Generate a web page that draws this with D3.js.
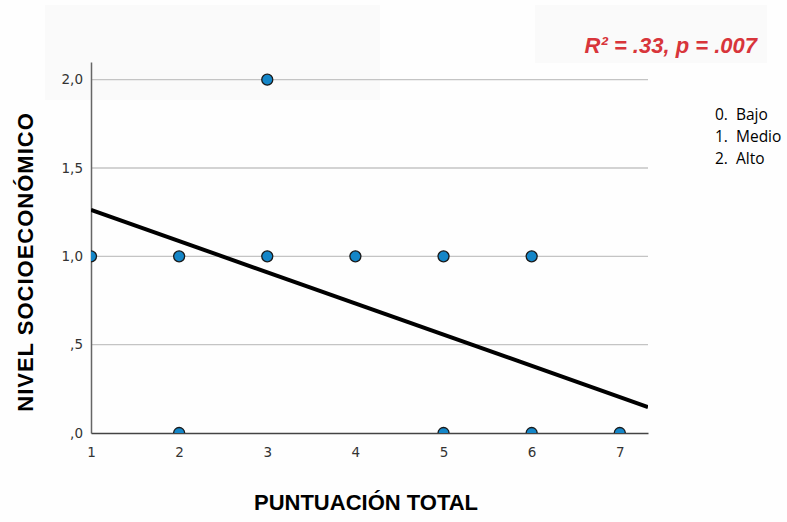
<!DOCTYPE html>
<html>
<head>
<meta charset="utf-8">
<script src="https://cdn.jsdelivr.net/npm/d3@7"></script>
<style>
  body { margin: 0; background: #fefefe; }
  svg { display: block; }
</style>
</head>
<body>
<div id="chart"></div>
<script>
// Puntuación total vs nivel socioeconómico (scatter + linear fit)
const puntuacion = [1, 2, 2, 3, 3, 4, 5, 5, 6, 6, 7];
const nivel      = [1, 1, 0, 2, 1, 1, 1, 0, 1, 0, 0];
const yTicks = [0, 0.5, 1, 1.5, 2];
const xTicks = [1, 2, 3, 4, 5, 6, 7];
const fitLine = [[1, 1.263], [7.32, 0.147]];
const legendItems = ["0.  Bajo", "1.  Medio", "2.  Alto"];

const width = 787, height = 522;
const margin = { top: 62, right: 139, bottom: 89, left: 91 };
const innerWidth = width - margin.left - margin.right;
const innerHeight = height - margin.top - margin.bottom;

const svg = d3.select("#chart")
    .append("svg")
    .attr("width", width)
    .attr("height", height);

// faint panels behind, as in the original screenshot
svg.append("rect").attr("x", 45).attr("y", 5).attr("width", 335).attr("height", 95).attr("fill", "#fafafa");
svg.append("rect").attr("x", 535).attr("y", 5).attr("width", 232).attr("height", 58).attr("fill", "#fafafa");

const g = svg.append("g")
    .attr("transform", `translate(${margin.left},${margin.top})`);

const x = d3.scaleLinear().domain([1, 7.32]).range([0, innerWidth]);
const y = d3.scaleLinear().domain([0, 2.1]).range([innerHeight, 0]);

g.append("defs").append("clipPath").attr("id", "clip")
    .append("rect").attr("width", innerWidth).attr("height", innerHeight);

// gridlines
g.append("g")
    .selectAll("line")
    .data(yTicks.filter(d => d > 0))
    .enter()
    .append("line")
    .attr("x1", 0)
    .attr("x2", innerWidth)
    .attr("y1", d => y(d))
    .attr("y2", d => y(d))
    .attr("stroke", "#c4c4c4")
    .attr("stroke-width", 1.3);

// axes
const fmt = d => d3.format(".1f")(d).replace(".", ",").replace(/^0,/, ",");
const yAxis = g.append("g")
    .call(d3.axisLeft(y).tickValues(yTicks).tickFormat(fmt).tickSize(0).tickPadding(8));
yAxis.select(".domain").attr("stroke", "#666").attr("stroke-width", 1.5);
yAxis.selectAll("text").attr("font-family", "DejaVu Sans").attr("font-size", "13.5px").attr("fill", "#333");

const xAxis = g.append("g")
    .attr("transform", `translate(0,${innerHeight})`)
    .call(d3.axisBottom(x).tickValues(xTicks).tickFormat(d3.format("d")).tickSize(0).tickPadding(14));
xAxis.select(".domain").attr("stroke", "#444").attr("stroke-width", 1.5);
xAxis.selectAll("text").attr("font-family", "DejaVu Sans").attr("font-size", "13.5px").attr("fill", "#333");

// regression line
g.append("path")
    .datum(fitLine)
    .attr("clip-path", "url(#clip)")
    .attr("fill", "none")
    .attr("stroke", "#000")
    .attr("stroke-width", 4)
    .attr("d", d3.line().x(d => x(d[0])).y(d => y(d[1])));

// points
g.append("g")
    .attr("clip-path", "url(#clip)")
    .selectAll("circle")
    .data(puntuacion.map((p, i) => ({ p, n: nivel[i] })))
    .enter()
    .append("circle")
    .attr("cx", d => x(d.p))
    .attr("cy", d => y(d.n))
    .attr("r", 5.5)
    .attr("fill", "#1486c8")
    .attr("stroke", "#1a1a1a")
    .attr("stroke-width", 1.3);

// axis titles
svg.append("text")
    .attr("transform", `translate(33,262) rotate(-90)`)
    .attr("text-anchor", "middle")
    .attr("font-family", "Liberation Sans, Arial")
    .attr("font-weight", "bold")
    .attr("font-size", "22px")
    .attr("letter-spacing", "1px")
    .attr("fill", "#000")
    .text("NIVEL SOCIOECONÓMICO");

svg.append("text")
    .attr("x", 366)
    .attr("y", 510)
    .attr("text-anchor", "middle")
    .attr("font-family", "Liberation Sans, Arial")
    .attr("font-weight", "bold")
    .attr("font-size", "22px")
    .attr("fill", "#000")
    .text("PUNTUACIÓN TOTAL");

// R² annotation
svg.append("text")
    .attr("x", 757)
    .attr("y", 53)
    .attr("text-anchor", "end")
    .attr("font-family", "Liberation Sans, Arial")
    .attr("font-weight", "bold")
    .attr("font-style", "italic")
    .attr("font-size", "22px")
    .attr("fill", "#d8353b")
    .text("R² = .33, p = .007");

// legend
svg.append("g")
    .selectAll("text")
    .data(legendItems)
    .enter()
    .append("text")
    .attr("x", 715)
    .attr("y", (d, i) => 120 + i * 22)
    .attr("font-family", "Open Sans")
    .attr("font-size", "15.5px")
    .attr("fill", "#000")
    .style("white-space", "pre")
    .text(d => d);
</script>
</body>
</html>
